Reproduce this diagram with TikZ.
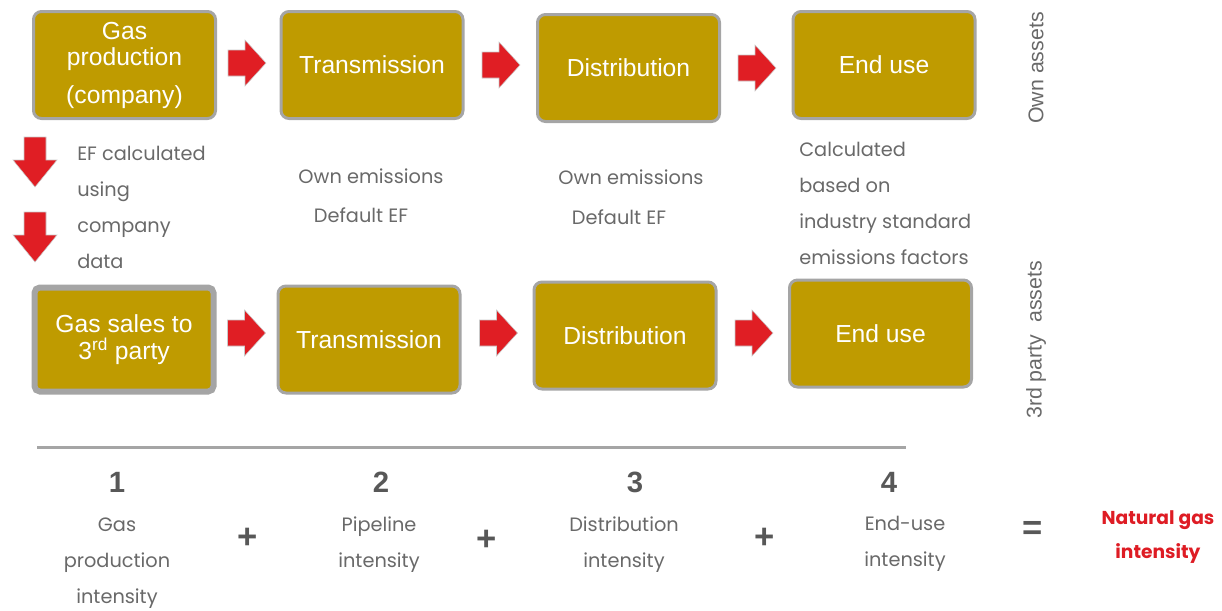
\documentclass[tikz,border=0pt]{standalone}
\usepackage{fontspec}
\setmainfont{Liberation Sans}
\newfontfamily\gothic{Poppins}
\usepackage{tikz}
\usetikzlibrary{positioning}
\definecolor{gold}{RGB}{191,155,0}
\definecolor{rimgray}{RGB}{165,165,165}
\definecolor{arrowred}{RGB}{224,30,36}
\definecolor{txtgray}{RGB}{105,105,105}
\definecolor{numgray}{RGB}{88,88,88}
\definecolor{sumred}{RGB}{222,28,36}

\begin{document}
\begin{tikzpicture}[x=0.75pt,y=-0.75pt,
  box/.style={draw=rimgray,line width=2.25pt,fill=gold,rounded corners=6pt,minimum width=136.5pt,minimum height=80.25pt,inner sep=0pt,text=white,align=center,font=\fontsize{18.5}{20}\selectfont},
  note/.style={text=txtgray,inner sep=0pt,font=\gothic\fontsize{14.5}{27}\selectfont},
  num/.style={text=numgray,inner sep=0pt,font=\bfseries\fontsize{22}{24}\selectfont},
  op/.style={text=numgray,inner sep=0pt,font=\bfseries\fontsize{26}{28}\selectfont},
  side/.style={text=txtgray,rotate=90,inner sep=0pt,font=\fontsize{16}{18}\selectfont},
  redarrow/.pic={\fill[arrowred,draw=rimgray!60,line width=0.4pt] (-19,-13) -- (-2,-13) -- (-2,-23) -- (19,0) -- (-2,23) -- (-2,13) -- (-19,13) -- cycle;},
  downarrow/.pic={\fill[arrowred,draw=rimgray!60,line width=0.4pt] (-11,-25) -- (11,-25) -- (11,-2) -- (22,-2) -- (0,25) -- (-22,-2) -- (-11,-2) -- cycle;}]
\useasboundingbox (0,0) rectangle (1222,611);
% own assets
\node[box] (g1) at (124.5,65) {Gas\\production\\[8pt](company)};
\node[box] (t1) at (372,65) {Transmission};
\node[box] (d1) at (628.5,68) {Distribution};
\node[box] (e1) at (884,65) {End use};
\pic at (247,63) {redarrow}; \pic at (501,65) {redarrow}; \pic at (757,68) {redarrow};
% 3rd party assets
\node[box,line width=4.5pt,rounded corners=4pt,minimum width=134.25pt,minimum height=78pt] (g2) at (124,339.5) {Gas sales to\\3\textsuperscript{rd} party};
\node[box] (t2) at (369,339.5) {Transmission};
\node[box] (d2) at (625,335.5) {Distribution};
\node[box] (e2) at (880.5,333.5) {End use};
\pic at (246.5,333) {redarrow}; \pic at (498.5,333) {redarrow}; \pic at (754,333) {redarrow};
\pic at (35,162) {downarrow}; \pic at (35,237) {downarrow};
% notes
\node[note,align=left,anchor=west] (n1) at (77,207) {EF calculated\\using\\company\\data};
\node[note] (o1) at (371,176) {Own emissions}; \node[note] (f1) at (361,215) {Default EF};
\node[note] (o2) at (631,177) {Own emissions}; \node[note] (f2) at (619,217) {Default EF};
\node[note,align=left,anchor=west] (n4) at (799,203) {Calculated\\based on\\industry standard\\emissions factors};
\node[side] (s1) at (1036,68) {Own assets};
\node[side] (s2) at (1036,340) {3rd party\ \ assets};
% sum
\draw[rimgray,line width=2.25pt] (37,447) -- (906,447);
\node[num] (k1) at (117,482) {1}; \node[num] (k2) at (381,482) {2}; \node[num] (k3) at (635,482) {3}; \node[num] (k4) at (889,482) {4};
\node[note,align=center] (i1) at (117,563) {Gas\\production\\intensity};
\node[note,align=center] (i2) at (379,545) {Pipeline\\intensity};
\node[note,align=center] (i3) at (624,545) {Distribution\\intensity};
\node[note,align=center] (i4) at (905,544) {End-use\\intensity};
\node[op] (p1) at (248,538) {+}; \node[op] (p2) at (487,540) {+}; \node[op] (p3) at (765,538) {+};
\node[op] (eq) at (1033,530) {=};
\node[note,align=center,text=sumred,font=\gothic\bfseries\fontsize{14}{26}\selectfont] (ng) at (1158,537) {Natural gas\\intensity};
\end{tikzpicture}
\end{document}
